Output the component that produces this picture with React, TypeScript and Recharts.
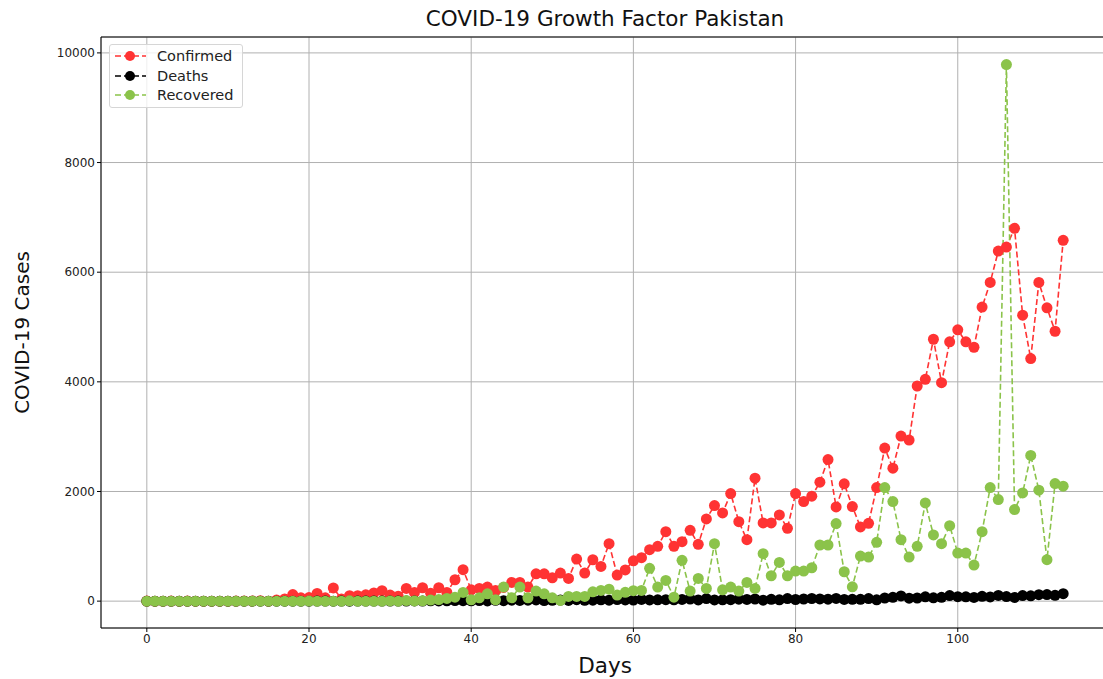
import React from 'react';
import { LineChart, Line, XAxis, YAxis, CartesianGrid, ReferenceLine, Label } from 'recharts';

const confirmed = [
  2, 0, 0, 1, 0, 1, 0, 0, 0, 0, 0, 1, 4, 1, 8, 0, 20, 40,
  120, 60, 65, 140, 60, 240, 40, 100, 100, 115, 150, 190, 110,
  90, 232, 159, 244, 146, 244, 159, 390, 573, 207,
  232, 256, 195, 250, 342, 342, 256, 499, 499, 426,
  512, 415, 768, 512, 755, 634, 1048, 475, 570, 735,
  792, 938, 1000, 1267, 1000, 1085, 1292, 1036, 1499, 1743,
  1609, 1962, 1450, 1121, 2243, 1426, 1426, 1572, 1329, 1962,
  1816, 1914, 2170, 2583, 1718, 2140, 1725, 1353, 1420, 2072,
  2791, 2425, 3010, 2937, 3924, 4046, 4777, 3985, 4729, 4948,
  4729, 4631, 5363, 5814, 6386, 6459, 6800, 5216, 4424, 5814,
  5350, 4923, 6581,
];

const deaths = [
  0, 0, 0, 0, 0, 0, 0, 0, 0, 0, 0, 0, 0, 0, 0, 0, 0, 0, 0, 0, 0,
  1, 1, 0, 2, 0, 1, 2, 1, 1, 2,
  1, 2, 3, 2, 5, 4, 5, 10, 8, 5,
  11, 3, 15, 8, 17, 12, 18, 21, 10, 16,
  20, 13, 26, 14, 18, 24, 17, 29, 21, 20,
  32, 21, 24, 26, 24, 31, 39, 23, 46, 21,
  24, 26, 35, 32, 39, 17, 34, 24, 46, 30,
  39, 48, 41, 35, 50, 32, 33, 34, 47, 25,
  57, 69, 95, 53, 57, 78, 60, 69, 101, 82,
  79, 67, 88, 76, 105, 83, 67, 101, 97, 118,
  119, 107, 136,
];

const recovered = [
  0, 0, 0, 0, 0, 0, 0, 0, 0, 0, 0, 0, 0, 0, 0, 0, 0, 0, 0, 0,
  2, 0, 0, 0, 0, 5, 0, 0, 0, 0,
  3, 0, 10, 4, 6, 20, 30, 50, 73, 159, 24,
  61, 134, 24, 256, 61, 256, 61, 183, 134, 61,
  12, 85, 85, 85, 170, 195, 219, 110, 160, 190,
  196, 598, 256, 378, 73, 744, 183, 415, 232, 1048,
  207, 256, 183, 342, 232, 865, 463, 707, 463, 548,
  548, 609, 1024, 1024, 1414, 536, 262, 823, 804, 1073,
  2072, 1816, 1121, 804, 1000, 1792, 1207, 1048, 1377, 877,
  877, 658, 1267, 2072, 1852, 9787, 1670, 1974, 2657, 2024,
  756, 2145, 2097,
];

const xTicks = [0, 20, 40, 60, 80, 100];
const yTicks = [0, 2000, 4000, 6000, 8000, 10000];

const series = [
  { key: 'confirmed', name: 'Confirmed', color: '#ff3333' },
  { key: 'deaths', name: 'Deaths', color: '#000000' },
  { key: 'recovered', name: 'Recovered', color: '#8bc34a' },
];

const data = confirmed.map((c, i) => ({
  day: i,
  confirmed: c,
  deaths: deaths[i],
  recovered: recovered[i],
}));

const FONT = '"DejaVu Sans", sans-serif';

// legend drawn as an overlay, so it takes no room from the plot
const LegendBox = () => (
  <div
    style={{
      position: 'absolute',
      left: 109,
      top: 44,
      width: 134,
      height: 64,
      background: 'rgba(255,255,255,0.8)',
      border: '1px solid #d6d6d6',
      borderRadius: 3,
      fontFamily: FONT,
      fontSize: 14.5,
      color: '#222',
      boxSizing: 'border-box',
      paddingTop: 1,
    }}
  >
    {series.map((s) => (
      <div key={s.key} style={{ display: 'flex', alignItems: 'center', height: 19.8 }}>
        <svg width={43} height={12} style={{ marginLeft: 4 }}>
          <line x1={1} y1={6} x2={32} y2={6} stroke={s.color} strokeWidth={1.6} strokeDasharray="6 3" />
          <circle cx={16} cy={6} r={5} fill={s.color} />
        </svg>
        <span>{s.name}</span>
      </div>
    ))}
  </div>
);

export default function App() {
  return (
    <div style={{ position: 'absolute', left: 0, top: 0, width: 1103, height: 679, overflow: 'hidden', background: '#fff' }}>
      <div
        style={{
          position: 'absolute',
          left: 605,
          top: 6,
          transform: 'translateX(-50%)',
          whiteSpace: 'nowrap',
          fontFamily: FONT,
          fontSize: 21.5,
          color: '#111',
        }}
      >
        COVID-19 Growth Factor Pakistan
      </div>
      <LineChart
        width={1120}
        height={679}
        data={data}
        margin={{ top: 37, right: 11, bottom: 21, left: 41 }}
        style={{ fontFamily: FONT }}
      >
        <CartesianGrid stroke="#b0b0b0" strokeWidth={1} />
        <XAxis
          dataKey="day"
          type="number"
          domain={[-5.65, 118.65]}
          ticks={xTicks}
          allowDataOverflow
          height={30}
          stroke="#000"
          tickSize={4}
          tick={{ fill: '#222', fontSize: 12 }}
        >
          <Label value="Days" position="insideBottom" offset={-15} style={{ fontSize: 21.5, fill: '#111' }} />
        </XAxis>
        <YAxis
          type="number"
          domain={[-490, 10290]}
          ticks={yTicks}
          allowDataOverflow
          width={60}
          stroke="#000"
          tickSize={4}
          tick={{ fill: '#222', fontSize: 12 }}
        >
          <Label value="COVID-19 Cases" angle={-90} position="insideLeft" offset={-19} style={{ fontSize: 20, fill: '#111', textAnchor: 'middle' }} />
        </YAxis>
        <ReferenceLine y={10290} stroke="#000" strokeWidth={1} ifOverflow="extendDomain" />
        <ReferenceLine x={118.65} stroke="#000" strokeWidth={1} ifOverflow="extendDomain" />
        {series.map((s) => (
          <Line
            key={s.key}
            dataKey={s.key}
            name={s.name}
            type="linear"
            stroke={s.color}
            strokeWidth={1.6}
            strokeDasharray="6 3"
            dot={{ r: 5.5, fill: s.color, stroke: 'none' }}
            activeDot={false}
            isAnimationActive={false}
          />
        ))}
      </LineChart>
      <LegendBox />
    </div>
  );
}
